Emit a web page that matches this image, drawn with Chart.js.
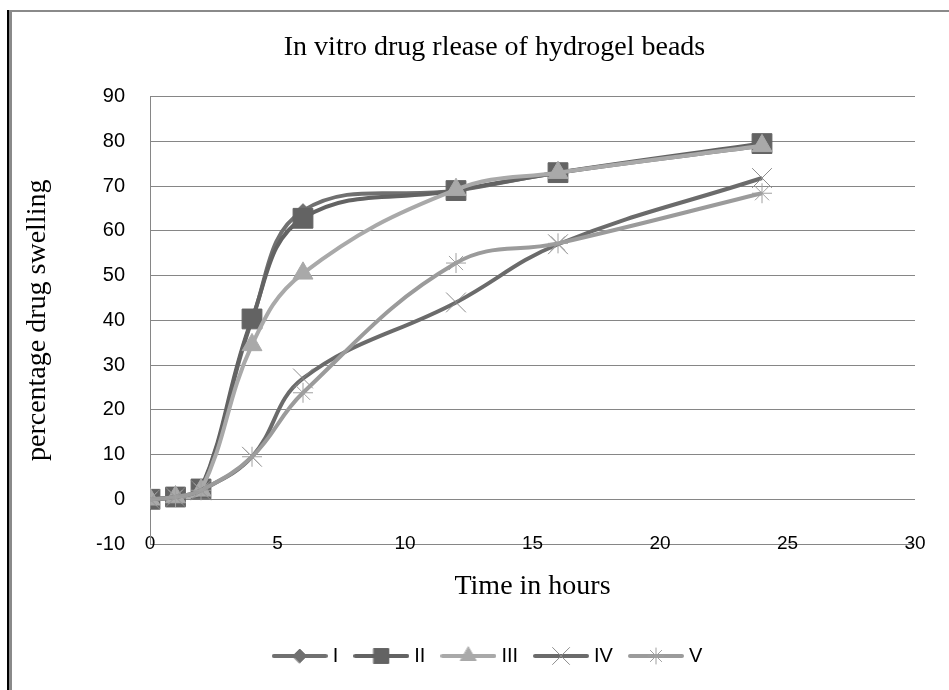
<!DOCTYPE html>
<html>
<head>
<meta charset="utf-8">
<title>In vitro drug release</title>
<script src="https://cdn.jsdelivr.net/npm/chart.js@4"></script>
<style>
    body { margin: 0; background: #fff; }
    #wrap { position: relative; width: 949px; height: 690px; }
    .frame-a { position: absolute; left: 7px; top: 10px; bottom: 0; width: 0; border-left: 2px solid #000; }
    .frame-b { position: absolute; left: 9px; top: 10px; right: 0; bottom: 0; border-left: 3px solid #8a8a8a; border-top: 2px solid #8a8a8a; }
    canvas { position: absolute; left: 0; top: 0; }
</style>
</head>
<body>
<div id="wrap">
    <div class="frame-a"></div>
    <div class="frame-b"></div>
    <canvas id="releaseChart" width="949" height="690"></canvas>
</div>
<script>
// sampling times (hours)
const hours = [0, 1, 2, 4, 6, 12, 16, 24];

// percentage values per formulation
const seriesI = [0, 0.5, 2, 40, 64.5, 69, 73, 79];
const seriesII = [0, 0.5, 2.3, 40.3, 62.8, 69, 73, 79.5];
const seriesIII = [0, 0.5, 2, 34.5, 50.5, 69.2, 73, 79];
const seriesIV = [0, 0.5, 2, 9.5, 27, 44, 57, 71.8];
const seriesV = [0, 0.5, 2, 9.5, 23.8, 52.8, 57.2, 68.4];

const seriesNames = ['I', 'II', 'III', 'IV', 'V'];

// axis tick labels
const xTicks = [0, 5, 10, 15, 20, 25, 30];
const yTicks = [-10, 0, 10, 20, 30, 40, 50, 60, 70, 80, 90];

const serif = "'Liberation Serif', 'Times New Roman', serif";
const sans = "'Liberation Sans', Arial, sans-serif";

// look of each series
const styles = [
    { color: '#707070', marker: 'rectRot', radius: 7, border: 1, legendRadius: 7 },
    { color: '#636363', marker: 'rect', radius: 14, border: 1, legendRadius: 10.5 },
    { color: '#a9a9a9', marker: 'triangle', radius: 11.5, border: 1, legendRadius: 9 },
    { color: '#6b6b6b', marker: 'crossRot', radius: 14, border: 1, legendRadius: 12, markerColor: '#8c8c8c' },
    { color: '#9b9b9b', marker: 'star', radius: 10, border: 1, legendRadius: 8, markerColor: '#a0a0a0' }
];

function toPoints(values) {
    return hours.map((h, i) => ({ x: h, y: values[i] }));
}

const allSeries = [seriesI, seriesII, seriesIII, seriesIV, seriesV];

const datasets = allSeries.map((values, i) => {
    const s = styles[i];
    return {
        label: seriesNames[i],
        data: toPoints(values),
        borderColor: s.color,
        backgroundColor: s.color,
        borderWidth: 4,
        tension: 0.4,
        pointStyle: s.marker,
        pointRadius: s.radius,
        pointBackgroundColor: s.color,
        pointBorderColor: s.markerColor || s.color,
        pointBorderWidth: s.border,
        order: allSeries.length - i
    };
});

// small canvas with the line and marker used as the legend symbol
function legendSymbol(i) {
    const s = styles[i];
    const c = document.createElement('canvas');
    c.width = 56;
    c.height = 24;
    const g = c.getContext('2d');
    g.strokeStyle = s.color;
    g.lineWidth = 4;
    g.lineCap = 'round';
    g.beginPath();
    g.moveTo(2, 12);
    g.lineTo(54, 12);
    g.stroke();
    g.fillStyle = s.color;
    g.strokeStyle = s.markerColor || s.color;
    g.lineWidth = 1;
    Chart.helpers.drawPoint(g, { pointStyle: s.marker, radius: s.legendRadius, rotation: 0, borderWidth: 1 }, 28, 12);
    return c;
}

// nudge title and legend to the right, like in the original
const blockShift = {
    id: 'blockShift',
    afterLayout(chart) {
        chart.legend.left += 22;
        chart.legend.right += 22;
        chart.titleBlock.left += 27;
        chart.titleBlock.right += 27;
    }
};

const ctx = document.getElementById('releaseChart').getContext('2d');
const releaseChart = new Chart(ctx, {
    type: 'line',
    data: { datasets: datasets },
    plugins: [blockShift],
    options: {
        responsive: false,
        animation: false,
        layout: { padding: { left: 20, right: 34, top: 0, bottom: 14 } },
        plugins: {
            title: {
                display: true,
                text: 'In vitro drug rlease of hydrogel beads',
                color: '#000',
                font: { family: serif, size: 28, weight: 'normal' },
                padding: { top: 31, bottom: 32 }
            },
            legend: {
                position: 'bottom',
                labels: {
                    usePointStyle: true,
                    pointStyleWidth: 46,
                    padding: 20,
                    color: '#000',
                    font: { family: sans, size: 20 },
                    generateLabels(chart) {
                        return chart.data.datasets.map((ds, i) => ({
                            text: ds.label,
                            pointStyle: legendSymbol(i),
                            fillStyle: ds.borderColor,
                            strokeStyle: ds.borderColor,
                            lineWidth: 0,
                            hidden: false,
                            datasetIndex: i,
                            fontColor: '#000'
                        }));
                    }
                }
            },
            tooltip: { enabled: false }
        },
        scales: {
            x: {
                type: 'linear',
                min: 0,
                max: 30,
                afterBuildTicks(scale) { scale.ticks = xTicks.map(v => ({ value: v })); },
                afterFit(scale) { scale.height = 82; },
                grid: { display: false, drawTicks: false },
                border: { display: false },
                // mirrored so the labels sit on the bottom gridline without being clipped
                ticks: { color: '#000', font: { family: sans, size: 19 }, mirror: true, padding: -11, maxRotation: 0 },
                title: {
                    display: true,
                    text: 'Time in hours',
                    color: '#000',
                    font: { family: serif, size: 28 },
                    padding: { top: 0, bottom: 23 }
                }
            },
            y: {
                min: -10,
                max: 90,
                afterBuildTicks(scale) { scale.ticks = yTicks.map(v => ({ value: v })); },
                afterFit(scale) { scale.width = 130; },
                grid: { color: '#868686', lineWidth: 1, drawTicks: false },
                border: { display: true, color: '#868686', width: 1 },
                ticks: { color: '#000', font: { family: sans, size: 20 }, padding: 25 },
                title: {
                    display: true,
                    text: 'percentage drug swelling',
                    color: '#000',
                    font: { family: serif, size: 28 },
                    padding: { top: 1, bottom: 0 }
                }
            }
        }
    }
});
</script>
</body>
</html>
